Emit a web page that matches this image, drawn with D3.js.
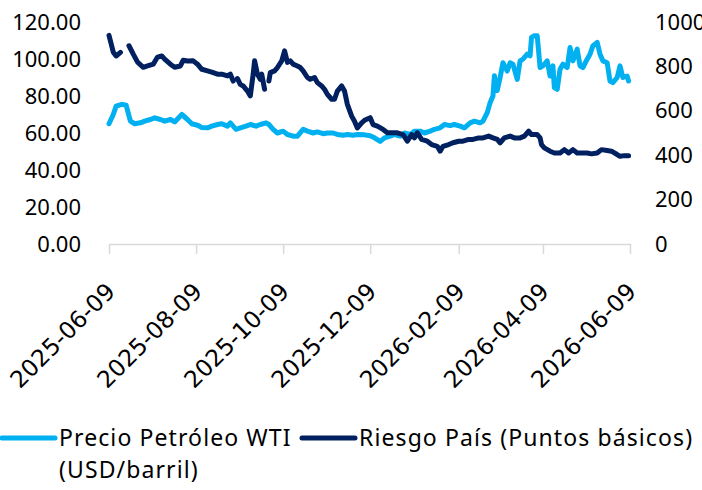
<!DOCTYPE html>
<html lang="es">
<head>
<meta charset="utf-8">
<title>WTI y Riesgo País</title>
<script src="https://d3js.org/d3.v7.min.js"></script>
<style>
  body { margin: 0; background: #fff; }
  svg { display: block; }
</style>
</head>
<body>
<script>
// Precio Petróleo WTI (USD/barril), eje izquierdo
var wtiDates = ["2025-06-09","2025-06-12","2025-06-14","2025-06-18","2025-06-21","2025-06-24","2025-06-27",
  "2025-07-01","2025-07-04","2025-07-08","2025-07-11","2025-07-15","2025-07-18","2025-07-22","2025-07-25","2025-07-30",
  "2025-08-03","2025-08-06","2025-08-10","2025-08-13","2025-08-17","2025-08-20","2025-08-24","2025-08-27","2025-08-31",
  "2025-09-02","2025-09-06","2025-09-09","2025-09-13","2025-09-16","2025-09-20","2025-09-23","2025-09-27","2025-09-29",
  "2025-10-02","2025-10-05","2025-10-09","2025-10-12","2025-10-16","2025-10-19","2025-10-23","2025-10-26","2025-10-30",
  "2025-11-02","2025-11-06","2025-11-09","2025-11-13","2025-11-16","2025-11-20","2025-11-23","2025-11-27","2025-11-30",
  "2025-12-05","2025-12-09","2025-12-12","2025-12-16","2025-12-19","2025-12-23","2025-12-26","2025-12-30",
  "2026-01-02","2026-01-06","2026-01-09","2026-01-13","2026-01-16","2026-01-20","2026-01-23","2026-01-27","2026-01-30",
  "2026-02-03","2026-02-06","2026-02-10","2026-02-13","2026-02-17","2026-02-20","2026-02-24","2026-02-26",
  "2026-03-01","2026-03-03","2026-03-05","2026-03-06","2026-03-08","2026-03-10","2026-03-12","2026-03-15","2026-03-17",
  "2026-03-19","2026-03-22","2026-03-24","2026-03-26","2026-03-29","2026-03-31",
  "2026-04-01","2026-04-03","2026-04-05","2026-04-07","2026-04-09","2026-04-12","2026-04-14","2026-04-16","2026-04-17",
  "2026-04-19","2026-04-21","2026-04-23","2026-04-26","2026-04-28","2026-04-30",
  "2026-05-03","2026-05-05","2026-05-07","2026-05-10","2026-05-12","2026-05-14","2026-05-17","2026-05-19","2026-05-21",
  "2026-05-24","2026-05-26","2026-05-28","2026-05-31","2026-06-02","2026-06-04","2026-06-07","2026-06-08"];
var wtiValues = [65,70,74.5,75.5,75,66.4,65,
  65.5,66.4,67.3,68.2,67.3,66.4,67.3,66,70,
  67.3,65,64.2,63,62.8,63.7,64.6,65,63.7,
  65.5,62,62.8,63.7,64.6,63.7,64.6,65.5,64.6,
  62,60,61,59.2,58.3,58.3,62,61,60,
  60.6,59.6,60,60,59.2,58.8,59.2,58.8,59.2,
  59,58.5,57.4,55.5,57.4,58.3,59.2,58.3,
  60,59.2,61,61,60,61,62,62.8,64.6,
  64,64.6,63.7,62.8,65.5,66.4,65.5,66.4,
  71,76.4,80,91,83,90,98,93.5,98,
  97.2,89,99,99.9,102.6,101.7,
  111.7,112.6,112.6,95.4,96.3,99,90.8,96.3,84.5,
  83.6,94.5,97.2,95.4,106.2,99,
  105.3,96.3,95.4,99.9,102.6,107.1,109,102.6,99,
  98,88.1,87.2,90,96.3,90,90.8,88.1];

// Riesgo País (puntos básicos), eje derecho; null = sin dato
var riskDates = ["2025-06-09","2025-06-12","2025-06-14","2025-06-17","2025-06-19","2025-06-23","2025-06-26","2025-06-29",
  "2025-07-03","2025-07-06","2025-07-10","2025-07-13","2025-07-16","2025-07-18","2025-07-22","2025-07-25","2025-07-29","2025-07-31",
  "2025-08-03","2025-08-07","2025-08-10","2025-08-13","2025-08-17","2025-08-20","2025-08-24","2025-08-27","2025-08-31",
  "2025-09-02","2025-09-04","2025-09-06","2025-09-07","2025-09-09","2025-09-11","2025-09-14","2025-09-16","2025-09-18",
  "2025-09-19","2025-09-21","2025-09-23","2025-09-24","2025-09-26","2025-09-27","2025-09-29","2025-09-30",
  "2025-10-03","2025-10-05","2025-10-08","2025-10-10","2025-10-12","2025-10-14","2025-10-16","2025-10-19","2025-10-21",
  "2025-10-23","2025-10-26","2025-10-28","2025-10-31",
  "2025-11-02","2025-11-05","2025-11-07","2025-11-09","2025-11-12","2025-11-14","2025-11-16","2025-11-19","2025-11-21",
  "2025-11-23","2025-11-26","2025-11-28","2025-11-30",
  "2025-12-03","2025-12-05","2025-12-09","2025-12-11","2025-12-14","2025-12-18","2025-12-21","2025-12-25","2025-12-28",
  "2026-01-01","2026-01-04","2026-01-07","2026-01-09","2026-01-11","2026-01-14","2026-01-18","2026-01-21","2026-01-25",
  "2026-01-27","2026-01-29","2026-02-02","2026-02-05","2026-02-09","2026-02-12","2026-02-16","2026-02-19","2026-02-23",
  "2026-02-26","2026-03-02","2026-03-05","2026-03-08","2026-03-10","2026-03-13","2026-03-17","2026-03-20","2026-03-24",
  "2026-03-27","2026-03-30","2026-04-01","2026-04-05","2026-04-07","2026-04-08","2026-04-10","2026-04-14","2026-04-17",
  "2026-04-21","2026-04-24","2026-04-27","2026-04-30","2026-05-03","2026-05-06","2026-05-10","2026-05-13","2026-05-17",
  "2026-05-20","2026-05-24","2026-05-27","2026-05-31","2026-06-02","2026-06-05","2026-06-08"];
var riskValues = [940,864,847,863,null,893,855,819,
  796,802,810,842,847,833,810,796,802,828,
  824,825,810,787,780,774,765,765,757,
  765,734,null,745,719,712,689,667,765,
  825,765,742,765,697,null,734,772,
  780,795,825,870,818,825,810,802,795,
  780,750,742,750,
  727,712,697,674,652,652,689,712,689,
  629,576,553,523,
  546,557,569,538,531,516,501,501,501,
  493,463,493,478,501,471,463,448,440,
  418,440,448,456,463,463,471,471,478,
  478,486,478,471,456,478,486,478,478,
  486,508,493,493,478,448,433,418,410,
  410,425,410,425,410,410,410,406,410,
  425,421,418,403,395,398,398];

var xTickLabels = ["2025-06-09","2025-08-09","2025-10-09","2025-12-09","2026-02-09","2026-04-09","2026-06-09"];
var leftTicks = [0, 20, 40, 60, 80, 100, 120];
var rightTicks = [0, 200, 400, 600, 800, 1000];

var seriesNames = ["Precio Petróleo WTI", "Riesgo País (Puntos básicos)"];
var colors = ["#00B0F0", "#002060"];

var width = 702, height = 490;
var parse = d3.timeParse("%Y-%m-%d");

var svg = d3.select("body").append("svg")
    .attr("width", width)
    .attr("height", height);

var x = d3.scaleTime()
    .domain([parse(xTickLabels[0]), parse(xTickLabels[xTickLabels.length - 1])])
    .range([109, 630]);

var yLeft = d3.scaleLinear().domain([0, 120]).range([244, 22]);
var yRight = d3.scaleLinear().domain([0, 1000]).range([244, 22]);

// x axis: grey baseline with tick marks, rotated labels
var xAxis = svg.append("g")
    .attr("transform", "translate(0,244)")
    .call(d3.axisBottom(x)
        .tickValues(xTickLabels.map(parse))
        .tickSize(10)
        .tickSizeOuter(0)
        .tickFormat(d3.timeFormat("%Y-%m-%d")));
xAxis.select(".domain").attr("stroke", "#d9d9d9").attr("stroke-width", 1.5);
xAxis.selectAll(".tick line").attr("stroke", "#d9d9d9").attr("stroke-width", 1.5);
xAxis.selectAll(".tick text")
    .attr("font-family", "DejaVu Sans")
    .attr("font-size", 23.5)
    .attr("fill", "#000")
    .attr("text-anchor", "end")
    .attr("dy", 0)
    .attr("y", 0)
    .attr("transform", "translate(7,49) rotate(-45)");

// left axis labels
var leftAxis = svg.append("g")
    .attr("transform", "translate(81,0)")
    .call(d3.axisLeft(yLeft).tickValues(leftTicks).tickSize(0).tickPadding(0)
        .tickFormat(d3.format(".2f")));
leftAxis.select(".domain").remove();
leftAxis.selectAll("text")
    .attr("font-family", "Noto Sans")
    .attr("font-size", 22)
    .attr("fill", "#000");

// right axis labels
var rightAxis = svg.append("g")
    .attr("transform", "translate(655,0)")
    .call(d3.axisRight(yRight).tickValues(rightTicks).tickSize(0).tickPadding(0)
        .tickFormat(d3.format("d")));
rightAxis.select(".domain").remove();
rightAxis.selectAll("text")
    .attr("font-family", "Noto Sans")
    .attr("font-size", 22)
    .attr("fill", "#000");

var wtiData = wtiDates.map(function(d, i) { return { date: parse(d), value: wtiValues[i] }; });
var riskData = riskDates.map(function(d, i) { return { date: parse(d), value: riskValues[i] }; });

var lineLeft = d3.line()
    .defined(function(d) { return d.value != null; })
    .x(function(d) { return x(d.date); })
    .y(function(d) { return yLeft(d.value); });

var lineRight = d3.line()
    .defined(function(d) { return d.value != null; })
    .x(function(d) { return x(d.date); })
    .y(function(d) { return yRight(d.value); });

svg.append("path")
    .datum(wtiData)
    .attr("d", lineLeft)
    .attr("fill", "none")
    .attr("stroke", colors[0])
    .attr("stroke-width", 5)
    .attr("stroke-linejoin", "round")
    .attr("stroke-linecap", "round");

svg.append("path")
    .datum(riskData)
    .attr("d", lineRight)
    .attr("fill", "none")
    .attr("stroke", colors[1])
    .attr("stroke-width", 5)
    .attr("stroke-linejoin", "round")
    .attr("stroke-linecap", "round");

// legend
var legend = svg.append("g")
    .attr("font-family", "Noto Sans")
    .attr("font-size", 23)
    .attr("letter-spacing", 1.1);

legend.append("line")
    .attr("x1", 2).attr("x2", 55).attr("y1", 438).attr("y2", 438)
    .attr("stroke", colors[0]).attr("stroke-width", 5).attr("stroke-linecap", "round");
legend.append("text")
    .attr("x", 59).attr("y", 446)
    .text(seriesNames[0]);
legend.append("text")
    .attr("x", 59).attr("y", 478)
    .text("(USD/barril)");

legend.append("line")
    .attr("x1", 302).attr("x2", 355).attr("y1", 438).attr("y2", 438)
    .attr("stroke", colors[1]).attr("stroke-width", 5).attr("stroke-linecap", "round");
legend.append("text")
    .attr("x", 359).attr("y", 446)
    .text(seriesNames[1]);
</script>
</body>
</html>
